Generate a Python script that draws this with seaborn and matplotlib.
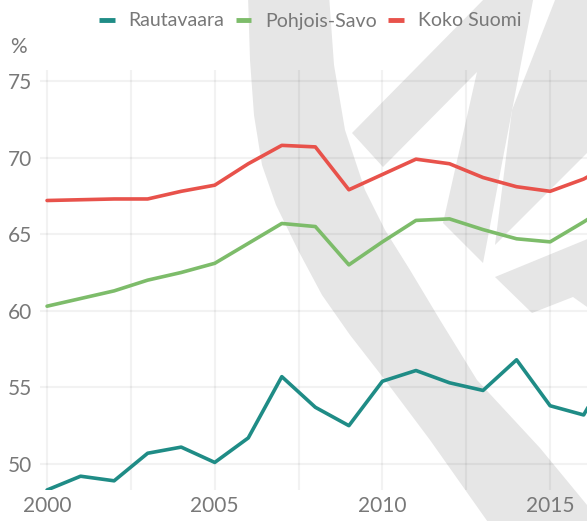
import numpy as np
import pandas as pd
import seaborn as sns
import matplotlib.pyplot as plt
import matplotlib.ticker as ticker
from matplotlib.patches import Polygon
from matplotlib.lines import Line2D

years = list(range(2000, 2018))
rautavaara = [48.3, 49.2, 48.9, 50.7, 51.1, 50.1, 51.7, 55.7, 53.7, 52.5,
              55.4, 56.1, 55.3, 54.8, 56.8, 53.8, 53.2, 57.0]
pohjois_savo = [60.3, 60.8, 61.3, 62.0, 62.5, 63.1, 64.4, 65.7, 65.5, 63.0,
                64.5, 65.9, 66.0, 65.3, 64.7, 64.5, 65.8, 67.2]
koko_suomi = [67.2, 67.25, 67.3, 67.3, 67.8, 68.2, 69.6, 70.8, 70.7, 67.9,
              68.9, 69.9, 69.6, 68.7, 68.1, 67.8, 68.6, 69.8]
series = ["Rautavaara", "Pohjois-Savo", "Koko Suomi"]
colors = ["#1f8c86", "#7dbc6a", "#e8524b"]

df = pd.DataFrame({
    "vuosi": years * 3,
    "arvo": rautavaara + pohjois_savo + koko_suomi,
    "alue": [s for s in series for _ in years],
})

sns.set_style("white")
plt.rcParams["font.family"] = ["Lato", "DejaVu Sans"]
text_col = "#787878"

W, H = 587, 521
fig = plt.figure(figsize=(W / 100, H / 100), dpi=100)

# watermark logo in the background (pixel coords)
bg = fig.add_axes([0, 0, 1, 1], zorder=0)
bg.set_xlim(0, W)
bg.set_ylim(H, 0)
bg.axis("off")
wm = "#e6e6e6"
arc_outer = [(248, -5), (250, 60), (254, 115), (262, 165), (276, 205), (298, 250),
             (322, 295), (350, 335), (385, 380), (430, 440), (490, 525)]
arc_inner = [(600, 525), (587, 505), (540, 448), (477, 380), (440, 320), (410, 270),
             (385, 230), (365, 190), (345, 130), (334, 65), (329, -5)]
bg.add_patch(Polygon(arc_outer + arc_inner, closed=True, fc=wm, ec="none"))
bg.add_patch(Polygon([(352, 133), (488, -5), (534, -5), (483, 263), (443, 223),
                      (477, 72), (383, 167)], closed=True, fc=wm, ec="none"))
bg.add_patch(Polygon([(557, -5), (590, -5), (590, 150), (495, 245), (512, 110)],
                     closed=True, fc=wm, ec="none"))
bg.add_patch(Polygon([(495, 277), (590, 238), (590, 309), (573, 297), (532, 313)],
                     closed=True, fc=wm, ec="none"))

ax = fig.add_axes([40 / W, 1 - 490 / H, (W - 40) / W, 420 / H], zorder=1)
ax.patch.set_alpha(0)

sns.lineplot(data=df, x="vuosi", y="arvo", hue="alue", hue_order=series,
             palette=colors, linewidth=2.6, legend=False, ax=ax)

ax.set_xlim(1999.79, 2016.1)
ax.set_ylim(48.3, 75.72)
ax.xaxis.set_major_locator(ticker.MultipleLocator(5))
ax.xaxis.set_minor_locator(ticker.MultipleLocator(2.5))
ax.yaxis.set_major_locator(ticker.MultipleLocator(5))
ax.grid(which="both", axis="x", color="black", alpha=0.05, linewidth=1.5)
ax.grid(which="major", axis="y", color="black", alpha=0.05, linewidth=1.5)
ax.set_axisbelow(True)
for s in ax.spines.values():
    s.set_visible(False)
ax.tick_params(which="both", length=0, labelsize=15, colors=text_col)
ax.tick_params(axis="y", pad=6)
ax.tick_params(axis="x", pad=4)
ax.set_xlabel("")
ax.set_ylabel("")

fig.text(10 / W, 1 - 47 / H, "%", fontsize=15, color=text_col,
         va="center", ha="left")

handles = [Line2D([], [], color=c, linewidth=3.5, solid_capstyle="butt") for c in colors]
leg = fig.legend(handles, series, loc="center right", bbox_to_anchor=(521 / W, 1 - 21 / H),
                 ncol=3, frameon=False, fontsize=14, handlelength=0.8,
                 handletextpad=0.7, columnspacing=0.6, borderpad=0, borderaxespad=0)
for t in leg.get_texts():
    t.set_color(text_col)

fig.savefig("out.png", dpi=100)
